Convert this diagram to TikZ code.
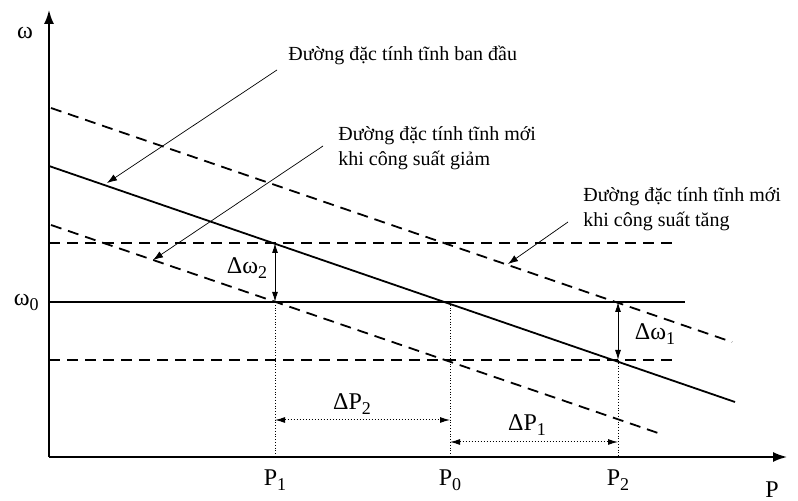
\documentclass[tikz,border=0pt]{standalone}
\usepackage{fontspec}
\setmainfont{Liberation Serif}
\usetikzlibrary{arrows.meta,positioning,calc}
\newcommand{\lowidx}[1]{\raisebox{-0.45ex}{\fontsize{9}{9}\selectfont #1}}

\begin{document}
\begin{tikzpicture}[x=0.5pt,y=-0.5pt,
  axis/.style={line width=0.9pt,-{Latex[length=7pt,width=5pt]}},
  charline/.style={line width=0.9pt},
  dashline/.style={line width=0.9pt,dash pattern=on 5.5pt off 3.5pt},
  guide/.style={line width=0.4pt,densely dotted},
  lead/.style={line width=0.35pt,-{Latex[length=5pt,width=3.5pt]}},
  delta/.style={line width=0.5pt,{Latex[length=5pt,width=3pt]}-{Latex[length=5pt,width=3pt]}},
  note/.style={font=\fontsize{10}{12.5}\selectfont,align=left,inner sep=0pt},
  lbl/.style={font=\fontsize{12}{14}\selectfont,inner sep=1pt}]
  \useasboundingbox (0,0) rectangle (798,501);

  % axes
  \coordinate (O) at (49,457);
  \coordinate (wtop) at (49,10);
  \coordinate (pend) at (787,457);
  \draw[axis] (O) -- (wtop);
  \draw[axis] (O) -- (pend);
  \node[lbl] (wlab) at (25,33) {ω};
  \node[lbl] (plab) at (772,490) {P};

  % speed levels
  \coordinate (w0a) at (49,302); \coordinate (w0b) at (685,302);
  \coordinate (hia) at (49,243); \coordinate (hib) at (678,243);
  \coordinate (loa) at (49,360); \coordinate (lob) at (678,360);
  \draw[charline] (w0a) -- (w0b);
  \draw[dashline] (hia) -- (hib);
  \draw[dashline] (loa) -- (lob);
  \node[lbl,left=4pt of w0a] (w0lab) {ω\lowidx{0}};

  % static characteristics
  \coordinate (mainA) at (49,166); \coordinate (mainB) at (735,402);
  \coordinate (upA) at (51,108);   \coordinate (upB) at (732,342);
  \coordinate (dnA) at (51,225);   \coordinate (dnB) at (658,433);
  \draw[charline] (mainA) -- (mainB);
  \draw[dashline] (upA) -- (upB);
  \draw[dashline] (dnA) -- (dnB);

  % operating points
  \coordinate (A1) at (275,243); \coordinate (B1) at (275,302); \coordinate (P1) at (275,457);
  \coordinate (B0) at (450,302); \coordinate (P0) at (450,457);
  \coordinate (A2) at (618,302); \coordinate (B2) at (618,360); \coordinate (P2) at (618,457);
  \draw[guide] (B1) -- (P1);
  \draw[guide] (B0) -- (P0);
  \draw[guide] (B2) -- (P2);
  \node[lbl,below=5pt of P1] (p1lab) {P\lowidx{1}};
  \node[lbl,below=5pt of P0] (p0lab) {P\lowidx{0}};
  \node[lbl,below=5pt of P2] (p2lab) {P\lowidx{2}};

  % frequency deviations
  \draw[delta] (A1) -- (B1);
  \draw[delta] (A2) -- (B2);
  \node[lbl] (dw2) at (247,268) {Δω\lowidx{2}};
  \node[lbl] (dw1) at (655,334) {Δω\lowidx{1}};

  % power deviations
  \coordinate (d2a) at (275,420); \coordinate (d2b) at (450,420);
  \coordinate (d1a) at (450,442); \coordinate (d1b) at (618,442);
  \draw[delta,densely dotted] (d2a) -- (d2b);
  \draw[delta,densely dotted] (d1a) -- (d1b);
  \node[lbl] (dp2) at (352,404) {ΔP\lowidx{2}};
  \node[lbl] (dp1) at (527,425) {ΔP\lowidx{1}};

  % notes with leaders
  \node[note,anchor=west] (note1) at (288,55) {Đường đặc tính tĩnh ban đầu};
  \node[note,anchor=west] (note2) at (338,148) {Đường đặc tính tĩnh mới\\khi công suất giảm};
  \node[note,anchor=west] (note3) at (583,209) {Đường đặc tính tĩnh mới\\khi công suất tăng};
  \coordinate (l1) at (277,70);  \coordinate (t1) at (107,183);
  \coordinate (l2) at (323,146); \coordinate (t2) at (153,260);
  \coordinate (l3) at (568,222); \coordinate (t3) at (508,264);
  \draw[lead] (l1) -- (t1);
  \draw[lead] (l2) -- (t2);
  \draw[lead] (l3) -- (t3);
\end{tikzpicture}
\end{document}
